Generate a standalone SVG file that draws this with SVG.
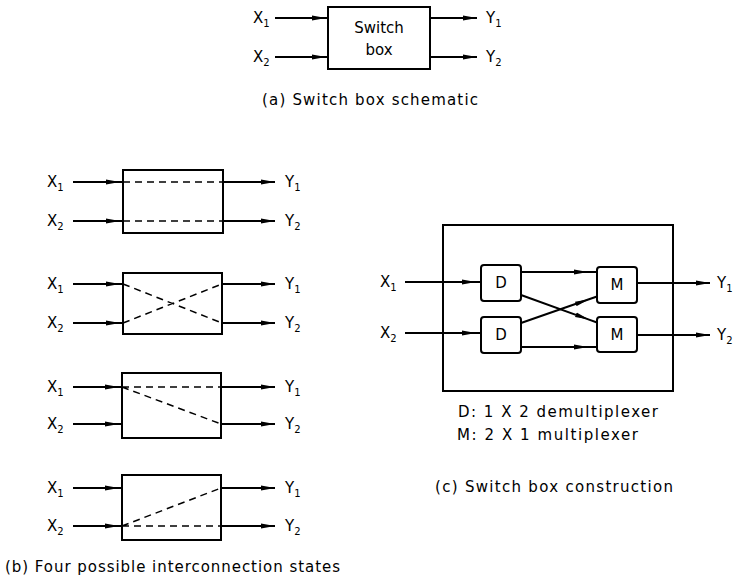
<svg xmlns="http://www.w3.org/2000/svg" width="738" height="587" viewBox="0 0 738 587">
<style>
.box{fill:none;stroke:#000;stroke-width:2}
.ln{fill:none;stroke:#000;stroke-width:2}
.dash{fill:none;stroke:#000;stroke-width:1.5;stroke-dasharray:7 5}
.in{marker-mid:url(#ah)}
.out{marker-end:url(#ah)}
text{font-family:"DejaVu Sans","Liberation Sans",Arial,sans-serif;fill:#000}
.lb{font-size:15px}
.sub{font-size:10px}
.cap{font-size:15px}
</style>
<defs>
<marker id="ah" viewBox="0 0 14 6" refX="14" refY="3" markerWidth="14" markerHeight="6" markerUnits="userSpaceOnUse" orient="auto"><path d="M0,0.6 L14,3 L0,5.4 z" fill="#000"/></marker>
</defs>
<rect width="738" height="587" fill="#fff"/>

<!-- (a) -->
<g id="a-box">
<rect class="box" x="328" y="7" width="102" height="62"/>
<text x="379" y="33" text-anchor="middle" font-size="15">Switch</text>
<text x="379" y="55" text-anchor="middle" font-size="15">box</text>
</g>
<g id="a-labels">
<text class="lb" x="253" y="23">X<tspan class="sub" dy="4">1</tspan></text>
<text class="lb" x="253" y="62">X<tspan class="sub" dy="4">2</tspan></text>
<text class="lb" x="486" y="23">Y<tspan class="sub" dy="4">1</tspan></text>
<text class="lb" x="486" y="62">Y<tspan class="sub" dy="4">2</tspan></text>
</g>
<g id="a-connectors">
<path class="ln in" d="M275,18 L326,18 L328,18"/>
<path class="ln in" d="M275,57 L326,57 L328,57"/>
<path class="ln out" d="M430,18 L477,18"/>
<path class="ln out" d="M430,57 L477,57"/>
</g>
<text class="cap" x="262" y="105" textLength="216" lengthAdjust="spacing">(a)  Switch box schematic</text>

<!-- (b) -->
<g id="b-state1">
<rect class="box" x="123" y="170" width="100" height="63"/>
<path class="dash" d="M123,182 L223,182 M123,221 L223,221"/>
<text class="lb" x="47" y="187">X<tspan class="sub" dy="4">1</tspan></text>
<text class="lb" x="47" y="226">X<tspan class="sub" dy="4">2</tspan></text>
<text class="lb" x="285" y="187">Y<tspan class="sub" dy="4">1</tspan></text>
<text class="lb" x="285" y="226">Y<tspan class="sub" dy="4">2</tspan></text>
</g>
<g id="b-state2">
<rect class="box" x="123" y="273" width="99" height="61"/>
<path class="dash" d="M123,284 L222,323 M123,323 L222,284"/>
<text class="lb" x="47" y="289">X<tspan class="sub" dy="4">1</tspan></text>
<text class="lb" x="47" y="328">X<tspan class="sub" dy="4">2</tspan></text>
<text class="lb" x="285" y="289">Y<tspan class="sub" dy="4">1</tspan></text>
<text class="lb" x="285" y="328">Y<tspan class="sub" dy="4">2</tspan></text>
</g>
<g id="b-state3">
<rect class="box" x="122" y="373" width="99" height="65"/>
<path class="dash" d="M122,387 L221,387 M122,387 L221,424"/>
<text class="lb" x="47" y="392">X<tspan class="sub" dy="4">1</tspan></text>
<text class="lb" x="47" y="429">X<tspan class="sub" dy="4">2</tspan></text>
<text class="lb" x="285" y="392">Y<tspan class="sub" dy="4">1</tspan></text>
<text class="lb" x="285" y="429">Y<tspan class="sub" dy="4">2</tspan></text>
</g>
<g id="b-state4">
<rect class="box" x="122" y="475" width="99" height="65"/>
<path class="dash" d="M122,526 L221,488 M122,526 L221,526"/>
<text class="lb" x="47" y="493">X<tspan class="sub" dy="4">1</tspan></text>
<text class="lb" x="47" y="531">X<tspan class="sub" dy="4">2</tspan></text>
<text class="lb" x="285" y="493">Y<tspan class="sub" dy="4">1</tspan></text>
<text class="lb" x="285" y="531">Y<tspan class="sub" dy="4">2</tspan></text>
</g>
<g id="b-connectors">
<path class="ln in" d="M73,182 L120,182 L123,182"/>
<path class="ln in" d="M73,221 L120,221 L123,221"/>
<path class="ln out" d="M223,182 L275,182"/>
<path class="ln out" d="M223,221 L275,221"/>
<path class="ln in" d="M73,284 L120,284 L123,284"/>
<path class="ln in" d="M73,323 L120,323 L123,323"/>
<path class="ln out" d="M222,284 L275,284"/>
<path class="ln out" d="M222,323 L275,323"/>
<path class="ln in" d="M73,387 L119,387 L122,387"/>
<path class="ln in" d="M73,424 L119,424 L122,424"/>
<path class="ln out" d="M221,387 L275,387"/>
<path class="ln out" d="M221,424 L275,424"/>
<path class="ln in" d="M73,488 L119,488 L122,488"/>
<path class="ln in" d="M73,526 L119,526 L122,526"/>
<path class="ln out" d="M221,488 L275,488"/>
<path class="ln out" d="M221,526 L275,526"/>
</g>
<text class="cap" x="5" y="572" textLength="335" lengthAdjust="spacing">(b)  Four possible interconnection states</text>

<!-- (c) -->
<g id="c-frame"><rect class="box" x="443" y="225" width="230" height="166"/></g>
<g id="c-D1"><rect class="box" x="481" y="265" width="40" height="36" rx="3"/><text class="lb" x="501" y="288" text-anchor="middle">D</text></g>
<g id="c-D2"><rect class="box" x="481" y="317" width="40" height="36" rx="3"/><text class="lb" x="501" y="340" text-anchor="middle">D</text></g>
<g id="c-M1"><rect class="box" x="597" y="267" width="40" height="36" rx="3"/><text class="lb" x="617" y="290" text-anchor="middle">M</text></g>
<g id="c-M2"><rect class="box" x="597" y="317" width="40" height="35" rx="3"/><text class="lb" x="617" y="340" text-anchor="middle">M</text></g>
<g id="c-labels">
<text class="lb" x="380" y="287">X<tspan class="sub" dy="4">1</tspan></text>
<text class="lb" x="380" y="338">X<tspan class="sub" dy="4">2</tspan></text>
<text class="lb" x="717" y="288">Y<tspan class="sub" dy="4">1</tspan></text>
<text class="lb" x="717" y="340">Y<tspan class="sub" dy="4">2</tspan></text>
</g>
<g id="c-connectors">
<path class="ln in" d="M405,282 L476,282 L481,282"/>
<path class="ln in" d="M405,333 L476,333 L481,333"/>
<path class="ln in" d="M521,272 L588,272 L597,272"/>
<path class="ln in" d="M521,347 L588,347 L597,347"/>
<path class="ln in" d="M521,295 L589,319.6 L597,322.5"/>
<path class="ln in" d="M521,323 L589,299.3 L597,296.5"/>
<path class="ln out" d="M637,283 L710,283"/>
<path class="ln out" d="M637,335 L710,335"/>
</g>
<text class="cap" x="458" y="417" textLength="200" lengthAdjust="spacing">D:  1 X 2 demultiplexer</text>
<text class="cap" x="457" y="440" textLength="181" lengthAdjust="spacing">M:  2 X 1 multiplexer</text>
<text class="cap" x="435" y="492" textLength="238" lengthAdjust="spacing">(c)  Switch box construction</text>
</svg>
